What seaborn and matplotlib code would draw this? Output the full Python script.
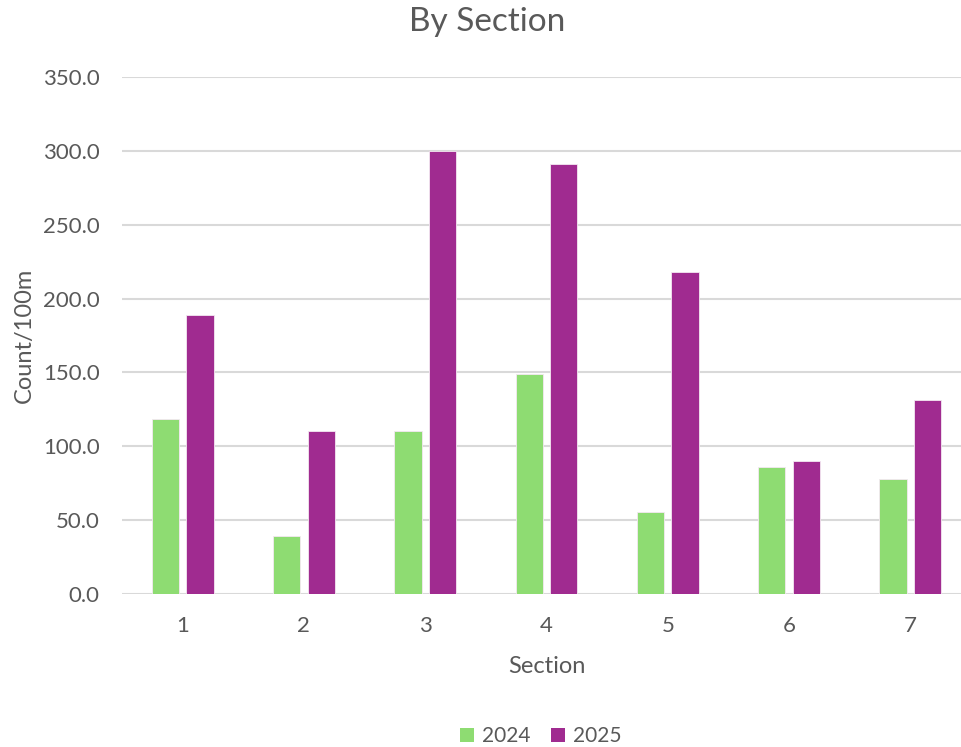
import matplotlib
matplotlib.use("Agg")
import matplotlib.pyplot as plt
import seaborn as sns
import pandas as pd
from matplotlib.patches import Patch

sections = ["1", "2", "3", "4", "5", "6", "7"]
years = ["2024", "2025"]
values_2024 = [118.7, 39.3, 110.3, 149.2, 55.6, 86.1, 77.8]
values_2025 = [189.0, 110.3, 300.0, 291.2, 218.2, 90.2, 131.6]
yticks = [0, 50, 100, 150, 200, 250, 300, 350]
colors = {"2024": "#8EDC72", "2025": "#A02B90"}

df = pd.DataFrame({
    "Section": sections * 2,
    "Year": ["2024"] * len(sections) + ["2025"] * len(sections),
    "Count": values_2024 + values_2025,
})

sns.set_theme(style="white")
plt.rcParams['font.family'] = ['Lato', 'DejaVu Sans']
text_color = "#595959"

fig = plt.figure(figsize=(9.62, 7.47), dpi=100)
ax = fig.add_axes([122 / 962, 1 - 594 / 747, 849 / 962, (594 - 77) / 747])

sns.barplot(data=df, x="Section", y="Count", hue="Year", order=sections,
            hue_order=years, palette=colors, saturation=1, width=0.57, gap=0.21,
            ax=ax, legend=False, edgecolor="#F4E8F2", linewidth=0.6, zorder=3)

ax.set_ylim(0, 350)
ax.set_xlim(-0.5, 6.5)
ax.set_yticks(yticks)
ax.set_yticklabels([f"{v:.1f}" for v in yticks])
ax.yaxis.grid(True, color="#D9D9D9", linewidth=1.5, zorder=0)
ax.set_axisbelow(True)
for s in ax.spines.values():
    s.set_visible(False)
ax.tick_params(axis="both", length=0, labelsize=16, colors=text_color)
ax.tick_params(axis="x", pad=16)
ax.tick_params(axis="y", pad=16)

ax.set_xlabel("Section", fontsize=17, color=text_color, labelpad=14)
ax.set_ylabel("Count/100m", fontsize=17, color=text_color, labelpad=6)
fig.text(487 / 962, 1 - 22 / 747, "By Section", ha="center", va="center",
         fontsize=24, color=text_color)

handles = [Patch(facecolor=colors[y], edgecolor="none", label=y) for y in years]
fig.legend(handles=handles, loc="center", bbox_to_anchor=(541 / 962, 1 - 736 / 747),
           ncol=2, frameon=False, fontsize=15, handlelength=0.65, handleheight=0.65,
           columnspacing=1.0, handletextpad=0.4, labelcolor=text_color)

fig.savefig("out.png", dpi=100)
